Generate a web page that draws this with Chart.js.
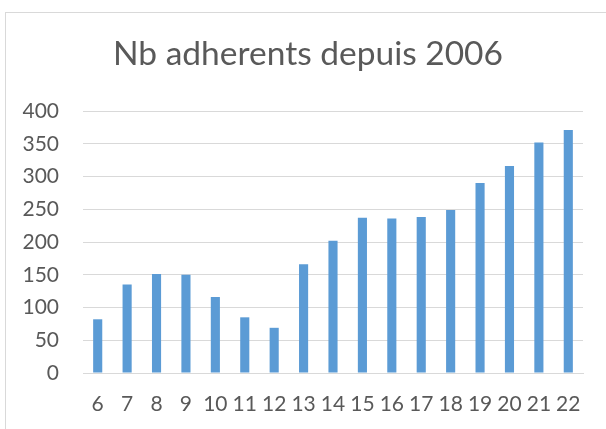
<!DOCTYPE html>
<html>
<head>
<meta charset="utf-8">
<script src="https://cdn.jsdelivr.net/npm/chart.js@4"></script>
<style>
  html, body { margin: 0; padding: 0; background: #ffffff; }
  #wrap { position: relative; width: 606px; height: 429px; overflow: hidden; }
  #frame { position: absolute; left: 5px; top: 12px; width: 700px; height: 500px; border: 1px solid #d9d9d9; box-sizing: border-box; }
  canvas { position: absolute; left: 0; top: 0; }
</style>
</head>
<body>
<div id="wrap">
  <div id="frame"></div>
  <canvas id="c" width="606" height="429"></canvas>
</div>
<script>
const chartTitle = "Nb adherents depuis 2006";
const categories = ["6","7","8","9","10","11","12","13","14","15","16","17","18","19","20","21","22"];
const adherents = [82, 135, 151, 150, 116, 85, 69, 166, 202, 237, 236, 238, 249, 290, 316, 352, 371];
const yTicks = [0, 50, 100, 150, 200, 250, 300, 350, 400];

const FONT = "Lato";
const TEXT = "#595959";

const shiftTitle = {
  id: 'shiftTitle',
  afterLayout(chart) {
    const t = chart.titleBlock;
    if (t) { t.left = 0; t.right = 616; t.width = 616; }
  }
};

new Chart(document.getElementById('c'), {
  type: 'bar',
  data: {
    labels: categories,
    datasets: [{
      label: "Nb adherents",
      data: adherents,
      backgroundColor: "#5b9bd5",
      borderWidth: 0,
      barPercentage: 0.31,
      categoryPercentage: 1.0
    }]
  },
  plugins: [shiftTitle],
  options: {
    responsive: false,
    animation: false,
    devicePixelRatio: 1,
    layout: { padding: { left: 0, right: 23, top: 0, bottom: 0 } },
    plugins: {
      legend: { display: false },
      tooltip: { enabled: false },
      title: {
        display: true,
        text: chartTitle,
        color: TEXT,
        font: { family: FONT, size: 33.5, weight: 'normal', lineHeight: 1.2 },
        padding: { top: 34.2, bottom: 36.6 }
      }
    },
    scales: {
      x: {
        grid: { display: false, drawTicks: false },
        border: { display: true, color: "#d9d9d9", width: 1 },
        ticks: { color: TEXT, font: { family: FONT, size: 21 }, padding: 19, maxRotation: 0, autoSkip: false },
        afterFit: (s) => { s.height = 56; }
      },
      y: {
        min: 0,
        max: 400,
        afterBuildTicks: (s) => { s.ticks = yTicks.map(v => ({ value: v })); },
        grid: { color: "#d9d9d9", lineWidth: 1, drawTicks: false },
        border: { display: false },
        ticks: { color: TEXT, font: { family: FONT, size: 21 }, padding: 24 },
        afterFit: (s) => { s.width = 83; }
      }
    }
  }
});
</script>
</body>
</html>
